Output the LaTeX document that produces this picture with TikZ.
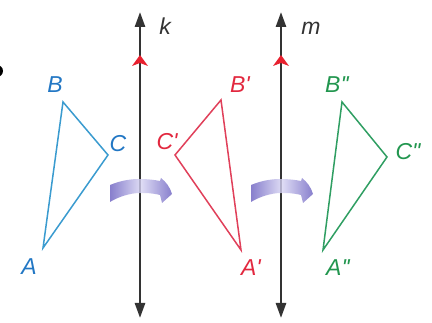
\documentclass[tikz,border=0pt]{standalone}
\usepackage{fontspec}
\setmainfont{Liberation Sans}
\usetikzlibrary{arrows.meta}
\definecolor{bluetri}{HTML}{3A9BCF}
\definecolor{bluelab}{HTML}{2277C4}
\definecolor{redtri}{HTML}{E0405A}
\definecolor{redlab}{HTML}{E2283F}
\definecolor{greentri}{HTML}{2F9E62}
\definecolor{greenlab}{HTML}{22964F}
\definecolor{axisgray}{HTML}{333333}
\definecolor{bandedge}{HTML}{6A5FC0}
\definecolor{bandmid}{HTML}{D6D3F2}
\definecolor{tickred}{HTML}{E8202E}
\newcommand\dprime{\textquotesingle\kern-0.5pt\textquotesingle}
\tikzset{
  twist/.pic={
    \path[left color=bandedge, right color=bandedge, middle color=bandmid, opacity=0.8]
      (-30,-5) .. controls (-18,-10) and (-8,-11) .. (0,-11)
      .. controls (8,-11) and (15,-10) .. (20,-9)
      -- (21,-12) .. controls (26,-8) and (30,-3) .. (32,4)
      -- (22,13) -- (20,5)
      .. controls (12,3) and (6,3) .. (0,3)
      .. controls (-10,3) and (-22,7) .. (-30,12) -- cycle;
  },
  redtick/.pic={
    \fill[tickred] (0,-7) -- (8,4) -- (0,1) -- (-8,4) -- cycle;
  }
}
\begin{document}
\begin{tikzpicture}[x=1pt,y=-1pt,
  lab/.style={font=\fontsize{23}{27}\selectfont\itshape, inner sep=0pt},
  axis/.style={draw=axisgray, line width=2.6pt,
    {Triangle[length=15pt,width=10pt]}-{Triangle[length=15pt,width=10pt]}},
  tri/.style={line width=1.5pt, line join=miter}]
\useasboundingbox (0,0) rectangle (432,323);

% partial bullet at the left edge
\fill (-3,71) circle (6pt);

% axes
\coordinate (kt) at (140,12);
\coordinate (kb) at (140,318);
\coordinate (mt) at (281,12);
\coordinate (mb) at (281,318);
\draw[axis] (kb) -- (kt);
\draw[axis] (mb) -- (mt);
\node[lab, text=axisgray] (kl) at (165,26) {k};
\node[lab, text=axisgray] (ml) at (311,28) {m};
\pic at (140,62) {redtick};
\pic at (281,62) {redtick};

% rotation ribbons
\pic at (140,190) {twist};
\pic at (281,190) {twist};

% triangle ABC
\coordinate (A) at (43,248);
\coordinate (B) at (63,102);
\coordinate (C) at (108,155);
\draw[tri, bluetri] (A) -- (B) -- (C) -- cycle;
\node[lab, text=bluelab] (lA) at (29,267) {A};
\node[lab, text=bluelab] (lB) at (55,85) {B};
\node[lab, text=bluelab] (lC) at (118,144) {C};

% triangle A'B'C'
\coordinate (A1) at (241,250);
\coordinate (B1) at (221,100);
\coordinate (C1) at (175,155);
\draw[tri, redtri] (A1) -- (B1) -- (C1) -- cycle;
\node[lab, text=redlab] (lA1) at (251,268) {A\textquotesingle};
\node[lab, text=redlab] (lB1) at (240,85) {B\textquotesingle};
\node[lab, text=redlab] (lC1) at (167,142) {C\textquotesingle};

% triangle A''B''C''
\coordinate (A2) at (323,250);
\coordinate (B2) at (342,102);
\coordinate (C2) at (387,157);
\draw[tri, greentri] (A2) -- (B2) -- (C2) -- cycle;
\node[lab, text=greenlab] (lA2) at (338,268) {A\dprime};
\node[lab, text=greenlab] (lB2) at (337,85) {B\dprime};
\node[lab, text=greenlab] (lC2) at (408,152) {C\dprime};
\end{tikzpicture}
\end{document}
